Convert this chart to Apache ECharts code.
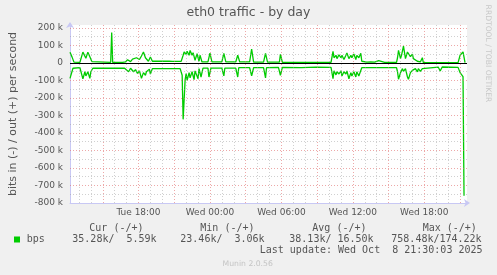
<!DOCTYPE html>
<html><head><meta charset="utf-8">
<script src="https://cdn.jsdelivr.net/npm/echarts@6/dist/echarts.min.js"></script>
<style>html,body{margin:0;padding:0;background:#f0f0f0}#c{width:497px;height:275px}</style>
</head><body><div id="c"></div>
<script>
// time in minutes since Tue 00:00 (5-minute samples), values in kbit/s
const outMinutes = [735,745,755,785,800,815,825,835,845,855,940,945,950,1000,1005,1015,1025,1040,1050,1060,1070,1085,1095,1105,1115,1125,1130,1140,1150,1235,1240,1250,1295,1305,1310,1320,1325,1335,1340,1350,1355,1365,1375,1385,1390,1400,1430,1440,1450,1500,1510,1520,1570,1580,1590,1640,1650,1660,1710,1720,1730,1790,1795,1805,2050,2060,2065,2075,2080,2090,2100,2105,2115,2125,2130,2140,2150,2155,2165,2175,2180,2190,2200,2205,2210,2230,2250,2270,2290,2300,2320,2380,2385,2390,2400,2405,2415,2425,2435,2440,2450,2460,2465,2475,2485,2490,2500,2510,2515,2690,2700,2710,2715,2720,2725];
const outK = [62,35,5,4,62,27,62,36,8,4,4,174,3,4,12,6,19,8,22,12,30,20,40,63,30,40,10,34,10,10,19,9,9,44,63,50,67,44,72,44,59,15,53,10,44,6,6,57,6,6,55,6,6,45,6,6,80,5,5,55,5,5,50,4,4,67,30,44,25,47,30,44,20,44,57,25,44,30,51,20,44,30,55,10,6,5,7,5,13,6,3,3,30,72,25,44,97,25,63,57,36,51,25,28,10,21,6,30,2,2,44,53,63,65,2];
const inMinutes = [735,750,785,800,810,815,825,835,840,850,1010,1015,1030,1040,1055,1065,1075,1085,1095,1105,1115,1120,1135,1140,1150,1290,1300,1305,1315,1320,1325,1335,1340,1350,1360,1365,1380,1385,1395,1405,1430,1435,1445,1500,1510,1515,1570,1580,1585,1640,1650,1660,1710,1720,1725,1785,1795,1805,1900,1975,2050,2060,2065,2075,2080,2090,2100,2105,2115,2125,2130,2140,2150,2155,2165,2175,2180,2190,2200,2205,2290,2300,2310,2380,2385,2390,2400,2410,2415,2425,2435,2440,2450,2460,2465,2475,2485,2490,2500,2510,2515,2590,2600,2610,2690,2695,2700,2710,2715,2720];
const inK = [-88,-30,-27,-91,-50,-74,-50,-88,-50,-30,-30,-40,-50,-30,-50,-38,-59,-45,-88,-55,-70,-50,-35,-63,-32,-32,-70,-322,-95,-60,-99,-55,-85,-50,-95,-45,-90,-32,-80,-29,-29,-80,-29,-29,-74,-29,-29,-80,-27,-27,-74,-27,-27,-85,-27,-25,-70,-25,-26,-24,-25,-90,-45,-68,-50,-63,-45,-74,-50,-63,-45,-90,-55,-74,-50,-80,-50,-74,-80,-27,-27,-36,-27,-27,-50,-93,-55,-32,-48,-32,-80,-93,-55,-42,-51,-32,-51,-32,-48,-32,-23,-23,-46,-23,-25,-36,-55,-51,-78,-758];

const xTickMinutes = [1080,1440,1800,2160,2520];
const xTickLabels = ['Tue 18:00','Wed 00:00','Wed 06:00','Wed 12:00','Wed 18:00'];
const yTicksK = [-800,-700,-600,-500,-400,-300,-200,-100,0,100,200];
const legendHeaders = ['Cur (-/+)','Min (-/+)','Avg (-/+)','Max (-/+)'];
const legendValues = ['35.28k/  5.59k','23.46k/  3.06k','38.13k/ 16.50k','758.48k/174.22k'];
const seriesName = 'bps';
const lastUpdate = 'Last update: Wed Oct  8 21:30:03 2025';

const X_MIN = 735, X_MAX = 2735, Y_MIN = -800, Y_MAX = 217.14;
const GREEN = '#00cc00';
const minorStyle = {color:'rgba(150,150,150,0.45)', width:1, type:[1,2]};
const majorStyle = {color:'rgba(225,110,110,0.6)', width:1, type:[1,2]};

const gridLines = [];
for (let m = 780; m < X_MAX; m += 60) {
  gridLines.push({xAxis: m, lineStyle: (m % 180 === 0) ? majorStyle : minorStyle});
}
for (let v = -750; v <= 200; v += 50) {
  if (v === 0) continue;
  gridLines.push({yAxis: v, lineStyle: (v % 100 === 0) ? majorStyle : minorStyle});
}

const chart = echarts.init(document.getElementById('c'), null, {renderer:'canvas'});
const mono = 'DejaVu Sans Mono';
const txt = '#555';
const graphics = [];
const headerX = [89.3, 200.3, 312.3, 422.7];
const valueX = [72.3, 180.3, 289.3, 391.3];
legendHeaders.forEach((h,i)=>graphics.push({type:'text', x:headerX[i], y:228, style:{text:h, font:'10px "'+mono+'"', fill:txt, textVerticalAlign:'middle'}}));
legendValues.forEach((h,i)=>graphics.push({type:'text', x:valueX[i], y:239.3, style:{text:h, font:'10px "'+mono+'"', fill:txt, textVerticalAlign:'middle'}}));
graphics.push({type:'rect', shape:{x:14, y:236.5, width:6, height:6}, style:{fill:GREEN}});
graphics.push({type:'text', x:26.7, y:239.3, style:{text:seriesName, font:'10px "'+mono+'"', fill:txt, textVerticalAlign:'middle'}});
graphics.push({type:'text', x:482.5, y:250.5, style:{text:lastUpdate, font:'10px "'+mono+'"', fill:txt, textAlign:'right', textVerticalAlign:'middle'}});
graphics.push({type:'text', x:247.7, y:264, style:{text:'Munin 2.0.56', font:'7.7px "DejaVu Sans"', fill:'#c4c4c4', textAlign:'center', textVerticalAlign:'middle'}});
graphics.push({type:'text', x:488, y:53.5, rotation:-Math.PI/2, style:{text:'RRDTOOL / TOBI OETIKER', font:'7.6px "DejaVu Sans"', fill:'#c8c8c8', textAlign:'center', textVerticalAlign:'middle'}});

chart.setOption({
  animation:false,
  backgroundColor:'#f0f0f0',
  title:{text:'eth0 traffic - by day', left:'center', top:6, padding:0, textStyle:{fontFamily:'DejaVu Sans', fontSize:12.5, fontWeight:'normal', color:txt}},
  grid:{left:67, right:30, top:25, bottom:72, show:true, backgroundColor:'#ffffff', borderWidth:0, containLabel:false},
  xAxis:{type:'value', min:X_MIN, max:X_MAX,
    axisLine:{onZero:false, lineStyle:{color:'#c8c8f4', width:1}, symbol:['none','arrow'], symbolSize:[6,6], symbolOffset:[0,3]},
    axisTick:{show:false}, splitLine:{show:false},
    axisLabel:{customValues:xTickMinutes, formatter:(v)=>{const i=xTickMinutes.indexOf(v);return i>=0?xTickLabels[i]:'';}, color:txt, fontSize:9, fontFamily:'DejaVu Sans', margin:5}},
  yAxis:{type:'value', min:Y_MIN, max:Y_MAX, interval:100,
    name:'bits in (-) / out (+) per second', nameLocation:'middle', nameRotate:90, nameGap:51,
    nameTextStyle:{fontFamily:'DejaVu Sans', fontSize:11, color:txt},
    axisLine:{show:true, onZero:false, lineStyle:{color:'#c8c8f4', width:1}, symbol:['none','arrow'], symbolSize:[6,6], symbolOffset:[0,3]},
    axisTick:{show:false}, splitLine:{show:false},
    axisLabel:{formatter:(v)=>{ if (yTicksK.indexOf(v) < 0) return ''; return v===0?'0':(v+' k'); }, color:txt, fontSize:9, fontFamily:'DejaVu Sans', margin:7}},
  graphic:graphics,
  series:[
    {type:'line', name:'grid', data:[], z:1, silent:true,
      markLine:{silent:true, symbol:'none', label:{show:false}, animation:false, data:gridLines}},
    {type:'line', name:'zero', data:[], z:2, silent:true,
      markLine:{silent:true, symbol:'none', label:{show:false}, animation:false, lineStyle:{color:'#000', width:1, type:'solid'}, data:[{yAxis:0}]}},
    {type:'line', name:'out', data:outMinutes.map((m,i)=>[m,outK[i]]), showSymbol:false, symbol:'none', z:3,
      lineStyle:{color:GREEN, width:1.3}},
    {type:'line', name:'in', data:inMinutes.map((m,i)=>[m,inK[i]]), showSymbol:false, symbol:'none', z:3,
      lineStyle:{color:GREEN, width:1.3}}
  ]
});
</script></body></html>
